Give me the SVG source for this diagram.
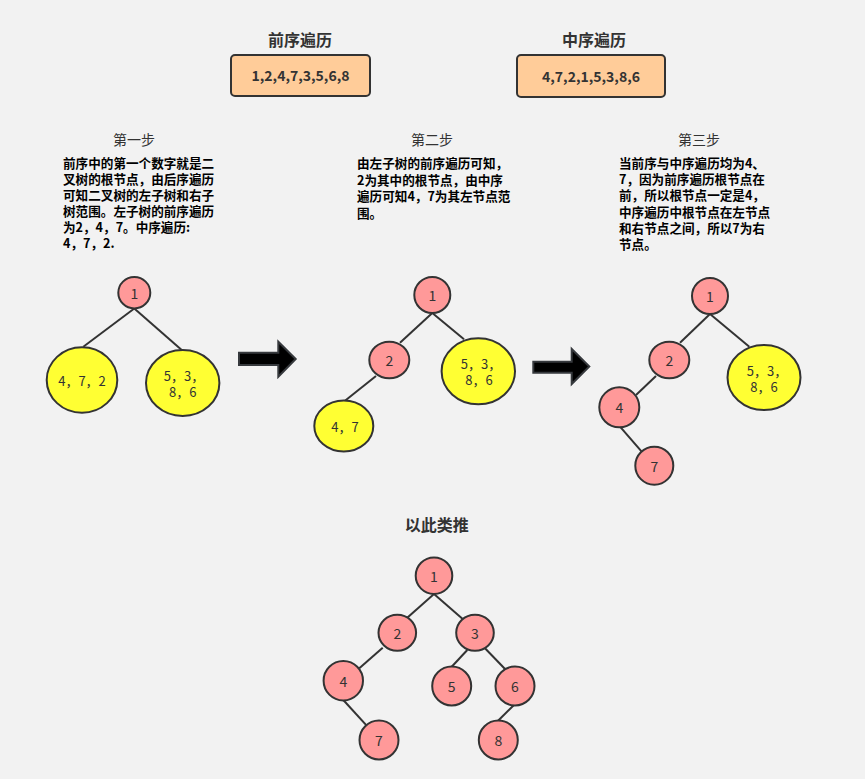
<svg xmlns="http://www.w3.org/2000/svg" width="865" height="779" viewBox="0 0 865 779">
<style>
.bg{fill:#f2f2f2}
.box{fill:#ffcc99;stroke:#333;stroke-width:2}
.pk{fill:#ff9999;stroke:#333;stroke-width:2}
.yl{fill:#ffff33;stroke:#333;stroke-width:2}
.arr{fill:#000;stroke:#36393d;stroke-width:2;stroke-linejoin:miter}
.ln{stroke:#333;stroke-width:2;fill:none}
text{font-family:"Microsoft YaHei","Noto Sans CJK SC","Noto Sans",sans-serif;fill:#333}
.h{font-size:16px;font-weight:bold;text-anchor:middle}
.bv{font-size:14px;font-weight:bold;text-anchor:middle}
.st{font-size:14px;text-anchor:middle}
.p{font-size:12.6px;font-weight:bold;fill:#000}
.n{font-size:14px;text-anchor:middle;dominant-baseline:central}
.m{font-size:13px;text-anchor:middle;dominant-baseline:central}
</style>
<rect class="bg" x="0" y="0" width="865" height="779"/>

<g id="preorder">
<text class="h" x="300" y="46">前序遍历</text>
<rect class="box" x="231" y="55" width="139" height="41" rx="4"/>
<text class="bv" x="300.5" y="81">1,2,4,7,3,5,6,8</text>
</g>
<g id="inorder">
<text class="h" x="594" y="46">中序遍历</text>
<rect class="box" x="517" y="55" width="148" height="42" rx="4"/>
<text class="bv" x="591" y="81.5">4,7,2,1,5,3,8,6</text>
</g>

<g id="step1">
<text class="st" x="134" y="145">第一步</text>
<text class="p" x="63"><tspan x="63" y="168">前序中的第一个数字就是二</tspan><tspan x="63" y="184">叉树的根节点，由后序遍历</tspan><tspan x="63" y="200">可知二叉树的左子树和右子</tspan><tspan x="63" y="216">树范围。左子树的前序遍历</tspan><tspan x="63" y="232">为2，4，7。中序遍历:</tspan><tspan x="63" y="248">4，7，2.</tspan></text>
</g>
<g id="step2">
<text class="st" x="432" y="145">第二步</text>
<text class="p" x="357"><tspan x="357" y="168">由左子树的前序遍历可知，</tspan><tspan x="357" y="184.5">2为其中的根节点，由中序</tspan><tspan x="357" y="201">遍历可知4，7为其左节点范</tspan><tspan x="357" y="217.5">围。</tspan></text>
</g>
<g id="step3">
<text class="st" x="699" y="145">第三步</text>
<text class="p" x="619"><tspan x="619" y="168">当前序与中序遍历均为4、</tspan><tspan x="619" y="184.2">7，因为前序遍历根节点在</tspan><tspan x="619" y="200.4">前，所以根节点一定是4，</tspan><tspan x="619" y="216.6">中序遍历中根节点在左节点</tspan><tspan x="619" y="232.8">和右节点之间，所以7为右</tspan><tspan x="619" y="249">节点。</tspan></text>
</g>

<g id="connectors">
<line class="ln" x1="134.3" y1="308.5" x2="83.3" y2="346.7"/>
<line class="ln" x1="134.3" y1="308.5" x2="181.7" y2="350"/>
<line class="ln" x1="432.3" y1="313" x2="400" y2="342.7"/>
<line class="ln" x1="432.3" y1="313" x2="464" y2="339.3"/>
<line class="ln" x1="376" y1="376" x2="345" y2="400.7"/>
<line class="ln" x1="710" y1="314" x2="680" y2="342.7"/>
<line class="ln" x1="710" y1="314" x2="749.3" y2="346.7"/>
<line class="ln" x1="656" y1="376" x2="636" y2="395"/>
<line class="ln" x1="620" y1="426.7" x2="641.7" y2="451.7"/>
<line class="ln" x1="434" y1="594" x2="406.7" y2="618.3"/>
<line class="ln" x1="434" y1="594" x2="462.7" y2="619"/>
<line class="ln" x1="382.7" y1="647.7" x2="359.3" y2="668.3"/>
<line class="ln" x1="467.3" y1="650" x2="451.7" y2="666.7"/>
<line class="ln" x1="485" y1="648.3" x2="506.7" y2="670.7"/>
<line class="ln" x1="343.3" y1="700" x2="366.7" y2="725.7"/>
<line class="ln" x1="514" y1="705" x2="498.3" y2="720.5"/>
</g>

<g id="arrow1"><path class="arr" d="M239,352.7 H278.3 V341.7 L295.7,359 L278.3,376.7 V365 H239 Z"/></g>
<g id="arrow2"><path class="arr" d="M533.3,361.7 H571.7 V349 L589.3,366.5 L571.7,384 V372.7 H533.3 Z"/></g>

<g id="t1-n1"><ellipse class="pk" cx="134.3" cy="292.7" rx="16" ry="15.7"/><text class="n" x="134.3" y="293">1</text></g>
<g id="t1-left"><ellipse class="yl" cx="82" cy="380" rx="35.3" ry="32.7"/><text class="m" x="82" y="380">4，7，2</text></g>
<g id="t1-right"><ellipse class="yl" cx="182.7" cy="383" rx="36.7" ry="33"/><text class="m" x="184" y="375.5">5，3，</text><text class="m" x="182.7" y="391.8">8，6</text></g>

<g id="t2-n1"><ellipse class="pk" cx="432.3" cy="295" rx="18" ry="18"/><text class="n" x="432.3" y="295">1</text></g>
<g id="t2-n2"><ellipse class="pk" cx="389.3" cy="360" rx="20" ry="18.3"/><text class="n" x="389.3" y="360">2</text></g>
<g id="t2-right"><ellipse class="yl" cx="478.3" cy="371.3" rx="36.7" ry="33"/><text class="m" x="481" y="363.5">5，3，</text><text class="m" x="479" y="379.5">8，6</text></g>
<g id="t2-left"><ellipse class="yl" cx="343.8" cy="426" rx="29.5" ry="25.5"/><text class="m" x="345" y="426.5">4，7</text></g>

<g id="t3-n1"><ellipse class="pk" cx="710" cy="296" rx="18" ry="18"/><text class="n" x="710" y="296">1</text></g>
<g id="t3-n2"><ellipse class="pk" cx="669.3" cy="360" rx="20" ry="18.3"/><text class="n" x="669.3" y="360">2</text></g>
<g id="t3-n4"><ellipse class="pk" cx="619.3" cy="407.3" rx="20" ry="20"/><text class="n" x="619.3" y="407.3">4</text></g>
<g id="t3-n7"><ellipse class="pk" cx="654.3" cy="465.7" rx="19" ry="19"/><text class="n" x="654.3" y="465.7">7</text></g>
<g id="t3-right"><ellipse class="yl" cx="764" cy="377.5" rx="36.5" ry="32.5"/><text class="m" x="767" y="370">5，3，</text><text class="m" x="764" y="386.5">8，6</text></g>

<g id="final-title"><text class="h" x="436.7" y="531">以此类推</text></g>
<g id="f-n1"><ellipse class="pk" cx="434" cy="575.7" rx="18.3" ry="18.3"/><text class="n" x="434" y="575.7">1</text></g>
<g id="f-n2"><ellipse class="pk" cx="397.3" cy="632.7" rx="18.8" ry="18"/><text class="n" x="397.3" y="632.7">2</text></g>
<g id="f-n3"><ellipse class="pk" cx="475" cy="632.7" rx="18.8" ry="18"/><text class="n" x="475" y="632.7">3</text></g>
<g id="f-n4"><ellipse class="pk" cx="343.3" cy="680.7" rx="19.7" ry="19.7"/><text class="n" x="343.3" y="680.7">4</text></g>
<g id="f-n5"><ellipse class="pk" cx="451.7" cy="686" rx="19.5" ry="19.5"/><text class="n" x="451.7" y="686">5</text></g>
<g id="f-n6"><ellipse class="pk" cx="515" cy="686" rx="19.5" ry="19.5"/><text class="n" x="515" y="686">6</text></g>
<g id="f-n7"><ellipse class="pk" cx="379" cy="740" rx="19.5" ry="19.5"/><text class="n" x="379" y="740">7</text></g>
<g id="f-n8"><ellipse class="pk" cx="498.3" cy="740" rx="19.5" ry="19.5"/><text class="n" x="498.3" y="740">8</text></g>
</svg>
